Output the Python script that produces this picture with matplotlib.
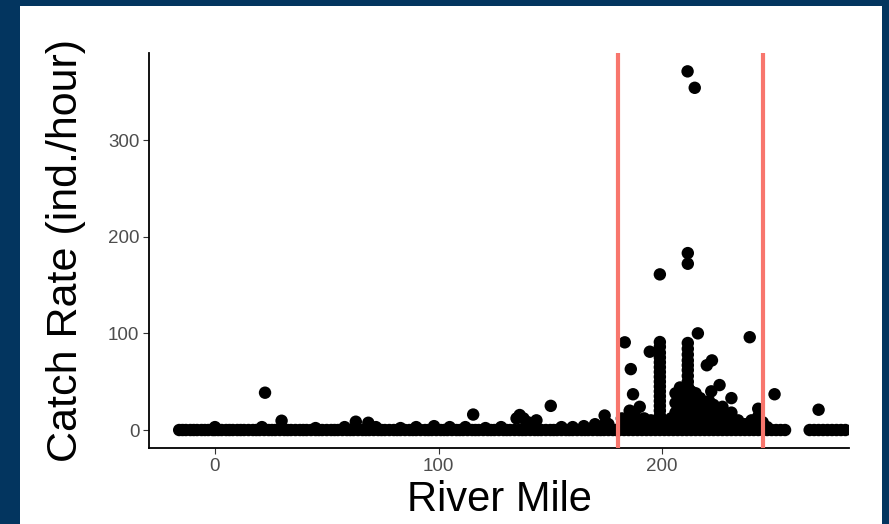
import matplotlib.pyplot as plt
import numpy as np

# river miles of sites where the catch rate was ~0
baseline_mile = [-16, -14.5, -13, -11, -9.5, -8, -6, -4.5, -3, -1, 0, 1.5, 3, 5, 6.5, 8, 10,
                 11.5, 13, 15, 17, 18.5, 20, 22, 24, 25.5, 27, 29, 31, 32.5, 34, 36, 38, 39.5,
                 41, 43, 45, 46.5, 48, 50, 52, 53.5, 55, 57, 59, 60.5, 62, 64, 66, 67.5, 69,
                 71, 73, 74.5, 76, 78, 80, 81.5, 83, 85, 87, 88.5, 90, 92, 94, 95.5, 97, 99,
                 101, 102.5, 104, 106, 108, 109.5, 111, 113, 115, 116.5, 118, 120, 122, 123.5,
                 125, 127, 129, 130.5, 132, 134, 136, 137.5, 139, 141, 143, 144.5, 146, 148,
                 150, 151.5, 153, 155, 157, 158.5, 160, 162, 164, 165.5, 167, 169, 171, 172.5,
                 174, 176, 178, 179.5, 181, 183, 185, 187, 189, 191, 193, 195, 197, 199, 201,
                 203, 205, 207, 209, 211, 213, 215, 217, 219, 221, 223, 225, 227, 229, 231,
                 233, 235, 237, 239, 241, 243, 245, 247, 249, 251, 253, 255,
                 266, 268, 270, 272, 274, 276, 278, 280, 282]

# small non-zero catches downstream of the reach
low_mile = [0, 21, 22.4, 29.8, 58, 63, 68.6, 90, 98, 112, 115.5, 128, 134.9, 136.3, 138, 140,
            143.8, 150.2, 155, 165, 170, 174.3, 174.8, 176, 45, 72, 83, 105, 121, 160]
low_rate = [3, 3, 38.6, 9.6, 3, 8.6, 7.5, 3, 4, 3, 16, 3, 12, 15.5, 12, 8,
            10, 25, 3, 4, 6, 15, 8, 6, 2, 3, 2, 3, 2, 3]

# two dense columns of sites
col1_mile = 199
col1_rate = [5, 10, 15, 20, 25, 30, 35, 40, 45, 50, 55, 60, 65, 70, 75, 80, 86, 91, 161]
col2_mile = 211.5
col2_rate = [5, 10, 15, 20, 25, 30, 35, 40, 45, 50, 56, 62, 67, 72, 78, 84, 90, 172, 183]

# remaining sites in the core reach
reach_mile = [211.4, 214.6, 183.3, 194.5, 216, 239.2, 222.3, 220, 186, 187, 190, 231, 225.7,
              222, 250.3, 243, 270, 185.5,
              206, 206, 206, 206, 208, 208, 208, 208, 208, 210, 210, 210, 210,
              213, 213, 213, 213, 213, 215, 215, 215, 215, 217, 217, 217, 217,
              219, 219, 219, 221, 221, 221, 221, 223, 223, 223, 225, 225, 225,
              227, 227, 227, 229, 229, 231, 231, 234, 234, 237, 240, 240, 243, 243, 245, 247,
              192, 192, 195, 195, 188, 188, 182, 182, 184, 197, 202, 202, 204, 204]
reach_rate = [371, 354, 90.7, 81, 100, 96, 72, 67, 63, 37, 24, 33, 46.5,
              40, 37, 22, 21, 20,
              8, 18, 28, 38, 4, 14, 24, 34, 44, 6, 16, 26, 36,
              4, 12, 20, 30, 40, 8, 18, 28, 38, 4, 14, 24, 33,
              8, 18, 28, 5, 14, 22, 30, 8, 18, 26, 4, 12, 20,
              8, 16, 24, 4, 12, 6, 18, 4, 10, 6, 3, 10, 5, 14, 8, 3,
              6, 12, 4, 10, 8, 14, 5, 12, 10, 6, 4, 8, 6, 12]

# boundaries of the reach
reach_bounds = [180.2, 245]

mile = np.concatenate([baseline_mile, low_mile, [col1_mile] * len(col1_rate),
                       [col2_mile] * len(col2_rate), reach_mile])
rate = np.concatenate([np.zeros(len(baseline_mile)), low_rate, col1_rate, col2_rate, reach_rate])

plt.rcParams['font.family'] = ['Liberation Sans', 'DejaVu Sans']

fig = plt.figure(figsize=(8.89, 5.24), dpi=100, facecolor='#03355f')
# white slide panel, behind the axes
fig.patches.append(plt.Rectangle((20 / 889, 0), 862 / 889, 518 / 524, transform=fig.transFigure,
                                 facecolor='white', edgecolor='none', zorder=-5))

ax = fig.add_axes([149 / 889, 1 - 448 / 524, 700 / 889, 395 / 524])
ax.set_facecolor('white')
ax.scatter(mile, rate, s=80, color='black', edgecolors='none', zorder=2)
for b in reach_bounds:
    ax.axvline(b, color='#F8766D', lw=3, zorder=3)

ax.set_xlim(-29.5, 283.6)
ax.set_ylim(-18.6, 390)
ax.set_xticks([0, 100, 200])
ax.set_yticks([0, 100, 200, 300])
for s in ['top', 'right']:
    ax.spines[s].set_visible(False)
for s in ['left', 'bottom']:
    ax.spines[s].set_linewidth(1.3)
    ax.spines[s].set_color('black')
ax.tick_params(length=4, width=0.8, color='#333333', labelcolor='#4D4D4D', labelsize=13.5, pad=3)

ax.set_xlabel('River Mile', fontsize=30, labelpad=4)
ax.set_ylabel('Catch Rate (ind./hour)', fontsize=31, labelpad=16)

fig.savefig('out.png', dpi=100, facecolor=fig.get_facecolor())
